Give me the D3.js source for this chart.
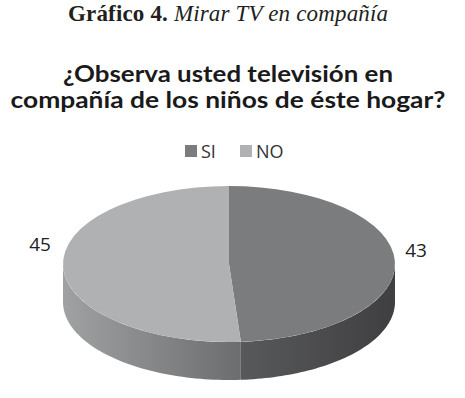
<!DOCTYPE html>
<html>
<head>
<meta charset="utf-8">
<script src="https://cdn.jsdelivr.net/npm/d3@7"></script>
<style>
  body { margin: 0; background: #fff; }
  svg { display: block; }
</style>
</head>
<body>
<script>
// data
const categories = ['SI', 'NO'];
const values = [43, 45];
const topColors = ['#7b7c7e', '#b0b1b3'];

const width = 465;
const height = 398;

// pie geometry (3d look: squashed ellipse + wall)
const cx = 229, cy = 264;
const rx = 166, ry = 78;
const depth = 38;

const svg = d3.select('body')
  .append('svg')
  .attr('width', width)
  .attr('height', height);

svg.append('rect').attr('width', width).attr('height', height).attr('fill', '#fff');

// header
const head = svg.append('text')
  .attr('x', 228)
  .attr('y', 21)
  .attr('text-anchor', 'middle')
  .attr('textLength', 320)
  .style('font-family', '"Liberation Serif", serif')
  .style('font-size', '23px')
  .style('fill', '#231f20');
head.append('tspan').style('font-weight', 'bold').text('Gráfico 4.');
head.append('tspan').style('font-style', 'italic').text(' Mirar TV en compañía');

// chart title
const titleLines = ['¿Observa usted televisión en', 'compañía de los niños de éste hogar?'];
const titleWidths = [330, 435];
svg.selectAll('text.title')
  .data(titleLines)
  .join('text')
  .attr('class', 'title')
  .attr('x', 228)
  .attr('y', (d, i) => 82 + i * 26)
  .attr('text-anchor', 'middle')
  .attr('textLength', (d, i) => titleWidths[i])
  .attr('lengthAdjust', 'spacingAndGlyphs')
  .style('font-family', 'Lato, "Open Sans", sans-serif')
  .style('font-weight', 'bold')
  .style('font-size', '22px')
  .style('fill', '#1a1a1a')
  .text(d => d);

// legend
const legendX = [185, 240];
const legend = svg.selectAll('g.legend')
  .data(categories)
  .join('g')
  .attr('class', 'legend')
  .attr('transform', (d, i) => `translate(${legendX[i]},145)`);
legend.append('rect')
  .attr('width', 12).attr('height', 12)
  .attr('fill', (d, i) => topColors[i]);
legend.append('text')
  .attr('x', 16).attr('y', 12.5)
  .style('font-family', '"Open Sans", sans-serif')
  .style('font-size', '18px')
  .style('fill', '#333')
  .text(d => d);

// gradients for the side wall
const defs = svg.append('defs');
const gradStops = [
  [['0%', '#58595b'], ['100%', '#3f3f41']],
  [['0%', '#a0a1a3'], ['100%', '#6c6d6f']]
];
gradStops.forEach((stops, i) => {
  const g = defs.append('linearGradient')
    .attr('id', 'side' + i)
    .attr('x1', 0).attr('x2', 1)
    .attr('y1', 0).attr('y2', 0);
  stops.forEach(s => g.append('stop').attr('offset', s[0]).attr('stop-color', s[1]));
});

const pie = d3.pie().sort(null).value(d => d);
const arcs = pie(values);

// angle -> point on the top ellipse (d3 angles: 0 at 12 o'clock, clockwise)
const px = a => cx + rx * Math.sin(a);
const py = a => cy - ry * Math.cos(a);

// wall: only the front half (pi/2 .. 3pi/2) is visible
const sideLine = d3.line();
const sides = svg.append('g');
arcs.forEach((a, i) => {
  const a0 = Math.max(a.startAngle, Math.PI / 2);
  const a1 = Math.min(a.endAngle, Math.PI * 1.5);
  if (a1 <= a0) return;
  const steps = d3.range(0, 61).map(k => a0 + (a1 - a0) * k / 60);
  const pts = steps.map(t => [px(t), py(t)])
    .concat(steps.slice().reverse().map(t => [px(t), py(t) + depth]));
  sides.append('path')
    .attr('d', sideLine(pts) + 'Z')
    .attr('fill', `url(#side${i})`);
});

// top faces
const arc = d3.arc().innerRadius(0).outerRadius(rx);
svg.append('g')
  .attr('transform', `translate(${cx},${cy}) scale(1,${ry / rx})`)
  .selectAll('path')
  .data(arcs)
  .join('path')
  .attr('d', arc)
  .attr('fill', (d, i) => topColors[i]);

// value labels
const labelPos = [[416, 257], [40, 251]];
svg.selectAll('text.val')
  .data(arcs)
  .join('text')
  .attr('class', 'val')
  .attr('x', (d, i) => labelPos[i][0])
  .attr('y', (d, i) => labelPos[i][1])
  .attr('text-anchor', 'middle')
  .style('font-family', '"Open Sans", sans-serif')
  .style('font-size', '19px')
  .style('fill', '#222')
  .text(d => d.data);
</script>
</body>
</html>
